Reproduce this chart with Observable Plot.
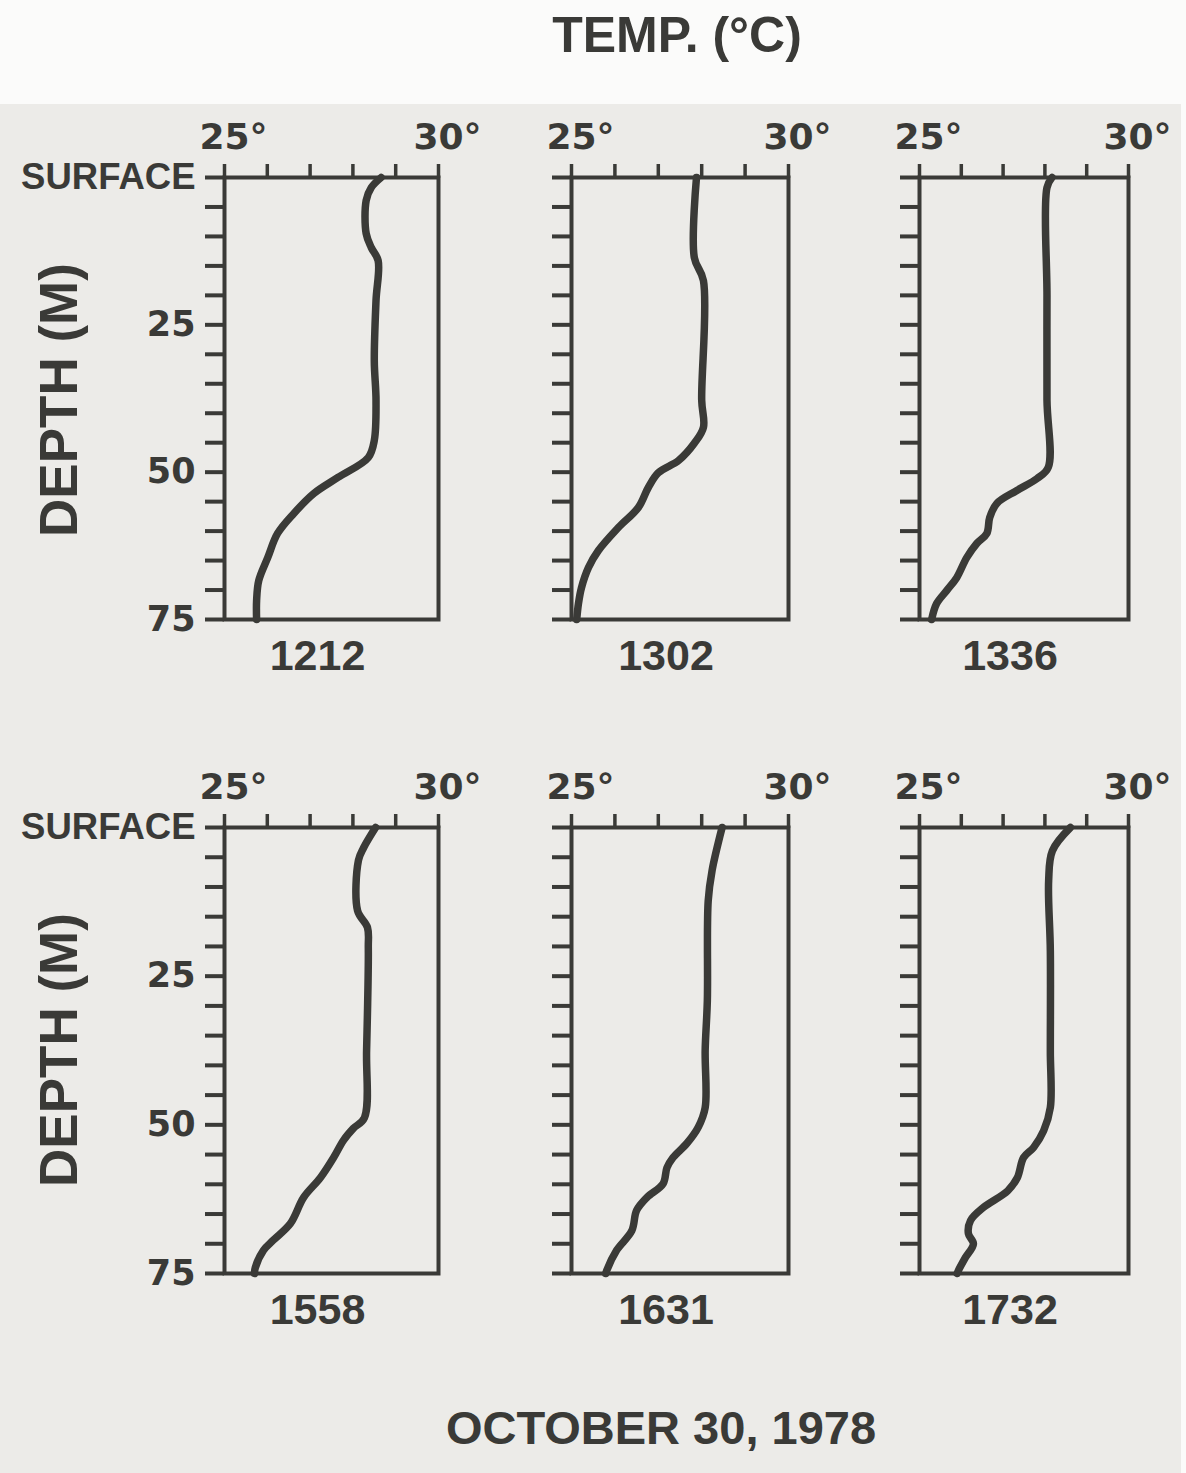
<!DOCTYPE html>
<html><head><meta charset="utf-8">
<script src="https://cdn.jsdelivr.net/npm/d3@7"></script>
<script src="https://cdn.jsdelivr.net/npm/@observablehq/plot@0.6"></script>
<style>
html,body{margin:0;padding:0;background:#fff;}
#page{position:relative;width:1186px;height:1473px;overflow:hidden;background:#fbfbfa;}
#paper{position:absolute;left:0;top:104px;width:1181px;height:1369px;background:#ecebe8;}
.lbl{position:absolute;font-family:"Liberation Sans",Arial,sans-serif;font-weight:bold;color:#3a3a37;white-space:nowrap;line-height:1;}
</style></head><body><div id="page"><div id="paper"></div></div>
<script>
// ---- data ----
const stations = ["1212", "1302", "1336", "1558", "1631", "1732"];
const xTicks = [25, 26, 27, 28, 29, 30];
const xLabelTicks = [25, 30];
const yTicks = [0, 5, 10, 15, 20, 25, 30, 35, 40, 45, 50, 55, 60, 65, 70, 75];
const yLabelTicks = [25, 50, 75];

const depth1212 = [0, 1.7, 3.9, 9.5, 11.9, 14.1, 20.9, 31.1, 37.8, 44.6, 47.5, 50.9, 53.6, 57.0, 60.4, 64.5, 68.4, 71.8, 75];
const temp1212  = [28.66, 28.43, 28.31, 28.31, 28.43, 28.59, 28.54, 28.50, 28.54, 28.50, 28.36, 27.65, 27.09, 26.62, 26.24, 26.01, 25.80, 25.75, 25.75];

const depth1302 = [0, 13.6, 17.5, 37.8, 42.4, 45.1, 48.0, 50.1, 52.6, 56.0, 59.4, 63.3, 66.2, 69.6, 72.3, 75];
const temp1302  = [27.88, 27.83, 28.04, 28.0, 28.04, 27.83, 27.47, 27.0, 26.77, 26.54, 26.08, 25.62, 25.39, 25.23, 25.16, 25.12];

const depth1336 = [0, 1.7, 20, 37.8, 49.2, 51.1, 53.1, 55.3, 57.7, 60.4, 62.1, 64.5, 67.9, 70.1, 72.3, 75];
const temp1336  = [28.17, 28.05, 28.05, 28.05, 28.08, 27.81, 27.33, 26.85, 26.68, 26.61, 26.37, 26.13, 25.89, 25.65, 25.41, 25.29];

const depth1558 = [0, 3.4, 5.5, 14.0, 16.8, 20.2, 37.5, 48.8, 50.6, 52.6, 55.5, 58.9, 62.2, 66.6, 69.4, 71.1, 74.0, 75];
const temp1558  = [28.53, 28.25, 28.13, 28.11, 28.34, 28.36, 28.32, 28.27, 28.01, 27.78, 27.55, 27.24, 26.85, 26.54, 26.14, 25.91, 25.72, 25.70];

const depth1631 = [0, 7.2, 12.3, 29.1, 37.5, 47.1, 50.4, 53.1, 55.5, 57.2, 59.9, 62.2, 64.4, 67.8, 71.1, 74.5, 75];
const temp1631  = [28.47, 28.24, 28.15, 28.13, 28.08, 28.08, 27.92, 27.66, 27.34, 27.20, 27.11, 26.74, 26.50, 26.39, 26.04, 25.81, 25.79];

const depth1732 = [0, 3.9, 8.9, 20.7, 37.5, 47.1, 51.0, 53.8, 55.5, 58.9, 61.1, 63.9, 66.1, 68.3, 70.0, 72.3, 74.5, 75];
const temp1732  = [28.61, 28.18, 28.09, 28.13, 28.13, 28.13, 27.97, 27.73, 27.49, 27.34, 27.11, 26.53, 26.22, 26.17, 26.29, 26.10, 25.93, 25.90];

const profileDepths = [depth1212, depth1302, depth1336, depth1558, depth1631, depth1732];
const profileTemps  = [temp1212, temp1302, temp1336, temp1558, temp1631, temp1732];

const titleText = "TEMP. (°C)";
const depthLabel = "DEPTH (M)";
const captionText = "OCTOBER 30, 1978";

// ---- layout ----
const ink = "#3a3a37";
const colLeft = [224, 571, 919];
const colWidth = [214, 217, 209];
const rowTop = [177, 827];
const rowHeight = [442, 446];
const page = document.getElementById("page");

function addLabel(text, x, y, size, rotate) {
  const d = document.createElement("div");
  d.className = "lbl";
  d.textContent = text;
  d.style.fontSize = size + "px";
  d.style.left = x + "px";
  d.style.top = y + "px";
  d.style.transform = "translate(-50%,-50%)" + (rotate ? " rotate(-90deg)" : "");
  page.appendChild(d);
}
addLabel(titleText, 677, 35, 50, false);
addLabel(captionText, 661, 1427, 47, false);
addLabel(depthLabel, 58, 400, 53, true);
addLabel(depthLabel, 58, 1050, 53, true);

const mL = 60, mR = 60, mT = 70, mB = 80;
stations.forEach((name, i) => {
  const row = Math.floor(i / 3), col = i % 3;
  const rows = profileDepths[i].map((d, j) => ({d, t: profileTemps[i][j]}));
  const marginLeft = col === 0 ? colLeft[0] : mL;
  const marks = [
    Plot.axisX({anchor: "top", ticks: xTicks, tickSize: 14, strokeWidth: 3.5, tickFormat: () => "", label: null}),
    Plot.axisX({anchor: "top", ticks: xLabelTicks, tickSize: 0, tickPadding: 29, dx: 9,
      tickFormat: d => d + "°", label: null, fontSize: 36, fontFamily: "DejaVu Sans", fontWeight: "bold"}),
    Plot.axisY({anchor: "left", ticks: yTicks, tickSize: 19, strokeWidth: 4, tickFormat: () => "", label: null})
  ];
  if (col === 0) {
    marks.push(Plot.axisY({anchor: "left", ticks: [0], tickSize: 0, tickPadding: 29,
      tickFormat: () => "SURFACE", label: null, fontSize: 36.5, fontFamily: "Liberation Sans", fontWeight: "bold"}));
    marks.push(Plot.axisY({anchor: "left", ticks: yLabelTicks, tickSize: 0, tickPadding: 29,
      label: null, fontSize: 35, fontFamily: "DejaVu Sans", fontWeight: "bold"}));
  }
  marks.push(Plot.frame({stroke: ink, strokeWidth: 4}));
  marks.push(Plot.line(rows, {x: "t", y: "d", curve: "catmull-rom", stroke: ink, strokeWidth: 7.5}));
  marks.push(Plot.text([name], {frameAnchor: "bottom", dy: 50, dx: -14, text: d => d,
    fontSize: 43, fontFamily: "Liberation Sans", fontWeight: "bold", fill: ink}));
  const svg = Plot.plot({
    width: marginLeft + colWidth[col] + mR,
    height: mT + rowHeight[row] + mB,
    marginLeft, marginRight: mR, marginTop: mT, marginBottom: mB,
    x: {domain: [25, 30], label: null},
    y: {domain: [0, 75], reverse: true, label: null},
    style: {background: "transparent", color: ink, overflow: "visible", maxWidth: "none"},
    marks
  });
  svg.style.position = "absolute";
  svg.style.left = (colLeft[col] - marginLeft) + "px";
  svg.style.top = (rowTop[row] - mT) + "px";
  page.appendChild(svg);
});
</script></body></html>
